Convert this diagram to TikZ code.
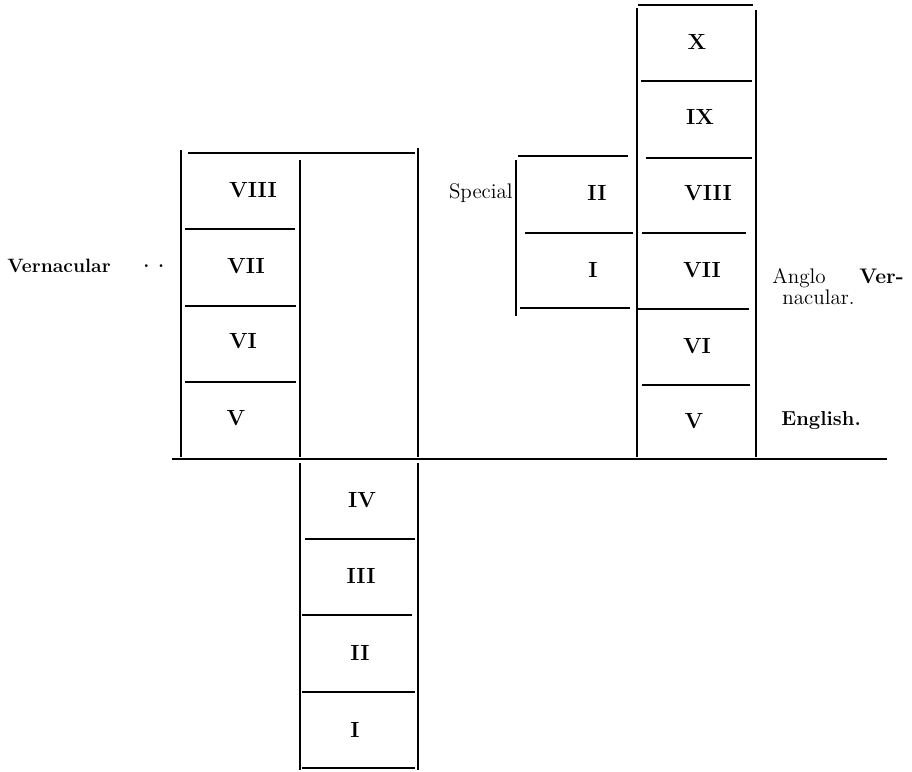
\documentclass[tikz,border=0pt]{standalone}
\usepackage{tikz}
\usetikzlibrary{positioning}

\begin{document}
\begin{tikzpicture}[
  x=0.02cm, y=-0.02cm,
  rule/.style={line width=1pt},
  grade/.style={font=\bfseries\fontsize{12.5}{14}\selectfont, inner sep=0pt},
  lbl/.style={font=\fontsize{12}{13}\selectfont, inner sep=0pt, align=left}
]
  \useasboundingbox (0,0) rectangle (912,771);

  % LEFT: Vernacular block
  \draw[rule] (181,150) -- (181,457);
  \draw[rule] (188,153) -- (415,153);
  \draw[rule] (300,160) -- (300,457);
  \draw[rule] (418,148) -- (418,457);
  \draw[rule] (185,229) -- (295,229);
  \draw[rule] (185,306) -- (296,306);
  \draw[rule] (185,382) -- (296,382);

  \node[grade] (l8) at (253,190) {VIII};
  \node[grade] (l7) at (246,266) {VII};
  \node[grade] (l6) at (243,341) {VI};
  \node[grade] (l5) at (236,418) {V};

  \node[lbl, font=\bfseries\fontsize{11}{12}\selectfont, anchor=west] (vern) at (7,266) {Vernacular};
  \node[lbl, font=\bfseries\fontsize{11}{12}\selectfont, anchor=west] (dots) at (143,266) {.\hspace{0.45em}.};

  % BASE LINE
  \draw[rule] (172,459) -- (887,459);

  % BOTTOM: primary stack
  \draw[rule] (300,463) -- (300,770);
  \draw[rule] (418,463) -- (418,770);
  \draw[rule] (305,539) -- (415,539);
  \draw[rule] (302,615) -- (412,615);
  \draw[rule] (302,692) -- (415,692);
  \draw[rule] (302,768) -- (415,768);

  \node[grade] (b4) at (362,500) {IV};
  \node[grade] (b3) at (361,576) {III};
  \node[grade] (b2) at (360,653) {II};
  \node[grade] (b1) at (355,730) {I};

  % RIGHT: Anglo Vernacular column
  \draw[rule] (637,8) -- (637,457);
  \draw[rule] (756,10) -- (756,457);
  \draw[rule] (638,5) -- (753,5);
  \draw[rule] (641,81) -- (752,81);
  \draw[rule] (646,158) -- (752,158);
  \draw[rule] (642,233) -- (746,233);
  \draw[rule] (638,309) -- (749,309);
  \draw[rule] (642,385) -- (750,385);

  \node[grade] (r10) at (697,42) {X};
  \node[grade] (r9) at (700,117) {IX};
  \node[grade] (r8) at (708,193) {VIII};
  \node[grade] (r7) at (702,270) {VII};
  \node[grade] (r6) at (697,346) {VI};
  \node[grade] (r5) at (694,421) {V};

  % Special block
  \draw[rule] (516,160) -- (516,316);
  \draw[rule] (518,156) -- (628,156);
  \draw[rule] (525,233) -- (633,233);
  \draw[rule] (520,308) -- (630,308);

  \node[grade] (s2) at (597,193) {II};
  \node[grade] (s1) at (593,270) {I};
  \node[lbl, anchor=east] (spec) at (513,193) {Special};

  \node[lbl, anchor=west] (anglo) at (772,278) {Anglo\hspace{1.6em}\textbf{Ver-}};
  \node[lbl, anchor=west] (nac) at (782,297) {nacular.};
  \node[lbl, font=\bfseries\fontsize{11.5}{12}\selectfont, anchor=west] (eng) at (781,421) {English.};

\end{tikzpicture}
\end{document}
